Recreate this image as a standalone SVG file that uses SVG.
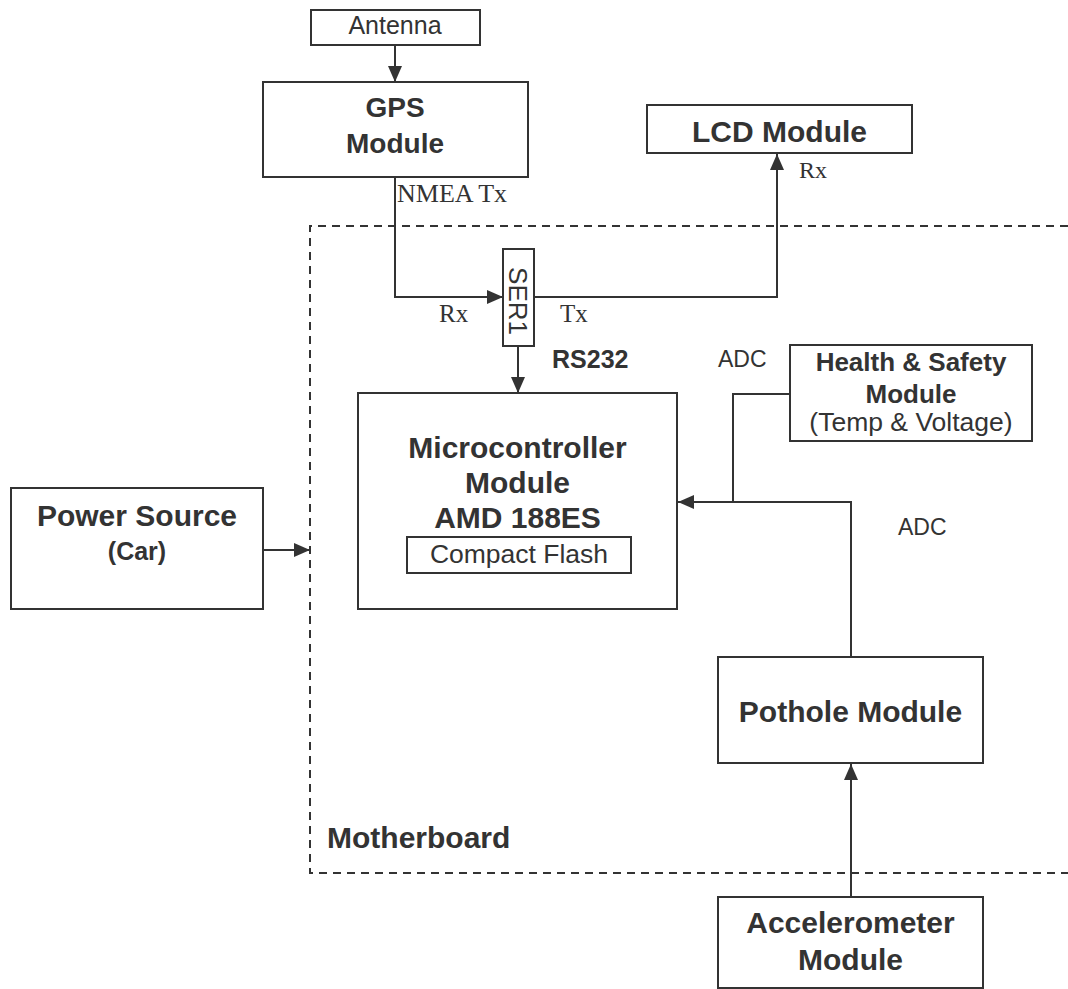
<svg xmlns="http://www.w3.org/2000/svg" width="1068" height="989" viewBox="0 0 1068 989">
  <style>
    .box { fill: #ffffff; stroke: #333333; stroke-width: 2; }
    .wire { fill: none; stroke: #333333; stroke-width: 2; }
    .board { fill: none; stroke: #333333; stroke-width: 2; stroke-dasharray: 8 6; }
    text { fill: #333333; font-family: "Liberation Sans", Arial, sans-serif; }
    .b { font-weight: bold; }
    .mid { text-anchor: middle; }
    .serif { font-family: "Liberation Serif", "Times New Roman", serif; }
  </style>
  <defs>
    <marker id="arrow" markerUnits="userSpaceOnUse" markerWidth="17" markerHeight="14" refX="16" refY="7" orient="auto">
      <path d="M0,0 L16,7 L0,14 Z" fill="#333333"/>
    </marker>
  </defs>

  <rect width="1068" height="989" fill="#ffffff"/>

  <!-- motherboard outline, open to the right -->
  <g id="motherboard">
    <path class="board" d="M1068,226 H310 V873 H1068"/>
    <text class="b" x="327" y="848" font-size="30">Motherboard</text>
  </g>

  <!-- connectors -->
  <g id="connectors">
    <line class="wire" x1="395" y1="45" x2="395" y2="82" marker-end="url(#arrow)"/>
    <polyline class="wire" points="395,177 395,297 503,297" marker-end="url(#arrow)"/>
    <polyline class="wire" points="534,297 777,297 777,154" marker-end="url(#arrow)"/>
    <line class="wire" x1="518" y1="346" x2="518" y2="393" marker-end="url(#arrow)"/>
    <polyline class="wire" points="790,394 733,394 733,502 678,502" marker-end="url(#arrow)"/>
    <polyline class="wire" points="851,657 851,502 733,502"/>
    <line class="wire" x1="851" y1="897" x2="851" y2="764" marker-end="url(#arrow)"/>
    <line class="wire" x1="263" y1="550" x2="310" y2="550" marker-end="url(#arrow)"/>
    <text class="serif" x="397" y="202" font-size="26">NMEA Tx</text>
    <text class="serif" x="799" y="178" font-size="24">Rx</text>
    <text class="serif" x="439" y="322" font-size="25">Rx</text>
    <text class="serif" x="560" y="322" font-size="25">Tx</text>
    <text class="b" x="552" y="368" font-size="25">RS232</text>
    <text x="718" y="367" font-size="23">ADC</text>
    <text x="898" y="535" font-size="23">ADC</text>
  </g>

  <g id="antenna">
    <rect class="box" x="311" y="10" width="169" height="35"/>
    <text class="mid" x="395" y="34" font-size="25">Antenna</text>
  </g>

  <g id="gps">
    <rect class="box" x="263" y="82" width="265" height="95"/>
    <text class="b mid" x="395" y="117" font-size="28">GPS</text>
    <text class="b mid" x="395" y="153" font-size="28">Module</text>
  </g>

  <g id="lcd">
    <rect class="box" x="647" y="105" width="265" height="48"/>
    <text class="b mid" x="779.5" y="142" font-size="30">LCD Module</text>
  </g>

  <g id="ser1">
    <rect class="box" x="503" y="249" width="31" height="97"/>
    <text class="mid" transform="translate(509,301) rotate(90)" font-size="26">SER1</text>
  </g>

  <g id="microcontroller">
    <rect class="box" x="358" y="393" width="319" height="216"/>
    <text class="b mid" x="517.5" y="458" font-size="30">Microcontroller</text>
    <text class="b mid" x="517.5" y="493" font-size="30">Module</text>
    <text class="b mid" x="517.5" y="528" font-size="30">AMD 188ES</text>
    <rect class="box" x="407" y="537" width="224" height="36"/>
    <text class="mid" x="519" y="563" font-size="26.5">Compact Flash</text>
  </g>

  <g id="health">
    <rect class="box" x="790" y="345" width="242" height="96"/>
    <text class="b mid" x="911" y="371" font-size="26">Health &amp; Safety</text>
    <text class="b mid" x="911" y="403" font-size="26">Module</text>
    <text class="mid" x="911" y="431" font-size="26.5">(Temp &amp; Voltage)</text>
  </g>

  <g id="power">
    <rect class="box" x="11" y="488" width="252" height="121"/>
    <text class="b mid" x="137" y="526" font-size="30">Power Source</text>
    <text class="b mid" x="137" y="560" font-size="25">(Car)</text>
  </g>

  <g id="pothole">
    <rect class="box" x="718" y="657" width="265" height="106"/>
    <text class="b mid" x="850.5" y="722" font-size="30">Pothole Module</text>
  </g>

  <g id="accelerometer">
    <rect class="box" x="718" y="897" width="265" height="91"/>
    <text class="b mid" x="850.5" y="933" font-size="30">Accelerometer</text>
    <text class="b mid" x="850.5" y="970" font-size="30">Module</text>
  </g>
</svg>
